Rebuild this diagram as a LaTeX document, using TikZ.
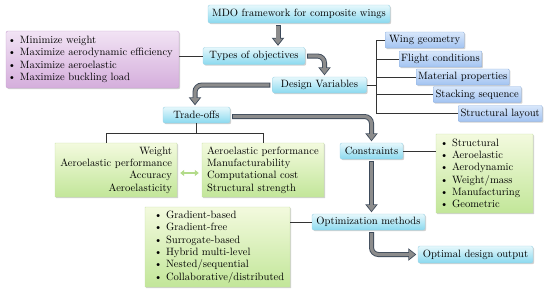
\documentclass[tikz,border=0pt]{standalone}
\usetikzlibrary{arrows.meta,shadows,positioning}

\definecolor{cyantop}{HTML}{E6F8FC}
\definecolor{cyanbot}{HTML}{8AD9EF}
\definecolor{cyanline}{HTML}{9CD3E4}
\definecolor{bluetop}{HTML}{D8E7FB}
\definecolor{bluebot}{HTML}{A2C3F1}
\definecolor{blueline}{HTML}{8FB1E0}
\definecolor{greentop}{HTML}{F3FADE}
\definecolor{greenbot}{HTML}{C2E699}
\definecolor{greenline}{HTML}{C4E1A4}
\definecolor{purpletop}{HTML}{F1E3F4}
\definecolor{purplebot}{HTML}{D5AEDC}
\definecolor{purpleline}{HTML}{C7A2D0}
\definecolor{arrowfill}{HTML}{8C8C8C}
\definecolor{arrowline}{HTML}{3D4A5A}
\definecolor{pairgreen}{HTML}{B3DB8A}

\newcommand{\bitem}[1]{\makebox[12pt][l]{\textbullet}\mbox{#1}}
\newcommand{\fatarrow}[1]{\draw[fatouter] #1; \draw[fatinner] #1;}

\tikzset{
    box/.style={draw, rounded corners=2pt, inner sep=2pt,
        font=\fontsize{10.6}{12.3}\selectfont,
        drop shadow={shadow xshift=1.2pt, shadow yshift=-1.2pt, opacity=.3, fill=black!60}},
    cyanbox/.style={box, draw=cyanline, top color=cyantop, bottom color=cyanbot},
    bluebox/.style={box, rounded corners=1pt, anchor=west, minimum height=16pt,
        draw=blueline, top color=bluetop, bottom color=bluebot},
    greenbox/.style={box, rounded corners=0.5pt, draw=greenline, top color=greentop, bottom color=greenbot},
    purplebox/.style={box, draw=purpleline, top color=purpletop, bottom color=purplebot},
    link/.style={draw=black!80, line width=0.6pt},
    fatouter/.style={draw=arrowline, line width=5pt, rounded corners=7pt,
        shorten <=2pt, shorten >=1.5pt, -{Triangle[length=8pt,width=12pt]}},
    fatinner/.style={draw=arrowfill, line width=3.2pt, rounded corners=7pt,
        shorten <=2.9pt, shorten >=2.9pt, -{Triangle[length=5.8pt,width=8.7pt]}},
    pairarrow/.style={draw=pairgreen, line width=1.8pt, shorten <=3pt, shorten >=3pt,
        {Triangle[length=4pt,width=6pt]}-{Triangle[length=4pt,width=6pt]}}
}

\begin{document}
\begin{tikzpicture}[x=1pt, y=-1pt]
    \useasboundingbox (0,0) rectangle (550,293);

    % main chain
    \node[cyanbox, minimum width=182pt, minimum height=18pt] (mdo) at (299,14) {MDO framework for composite wings};
    \node[cyanbox, minimum width=102pt, minimum height=17pt] (types) at (254,56) {Types of objectives};
    \node[cyanbox, minimum width=94pt, minimum height=16pt] (design) at (319.5,85) {Design Variables};
    \node[cyanbox, minimum width=67pt, minimum height=16pt] (trade) at (196.5,115) {Trade-offs};
    \node[cyanbox, minimum width=63pt, minimum height=16pt] (constr) at (371.5,151) {Constraints};
    \node[cyanbox, minimum width=113pt, minimum height=16pt] (opt) at (368.5,222) {Optimization methods};
    \node[cyanbox, minimum width=115pt, minimum height=17pt] (output) at (475.5,254.5) {Optimal design output};

    % objectives
    \node[purplebox, text width=169pt, minimum height=57pt, align=left] (obj) at (92.5,59.5)
        {\bitem{Minimize weight}\\ \bitem{Maximize aerodynamic efficiency}\\
         \bitem{Maximize aeroelastic}\\ \bitem{Maximize buckling load}};

    % design variables
    \node[bluebox, minimum width=79pt] (wing) at (385,40) {Wing geometry};
    \node[bluebox, minimum width=79pt] (flight) at (399,59) {Flight conditions};
    \node[bluebox, minimum width=91pt] (material) at (416,77) {Material properties};
    \node[bluebox, minimum width=88pt] (stacking) at (433,94.5) {Stacking sequence};
    \node[bluebox, minimum width=84pt] (layout) at (458,113.5) {Structural layout};

    % trade-offs
    \node[greenbox, text width=112pt, inner xsep=5pt, minimum height=54pt, align=right] (tradeL) at (116,170)
        {Weight\\ Aeroelastic performance\\ Accuracy\\ Aeroelasticity};
    \node[greenbox, text width=112pt, inner xsep=5pt, minimum height=54pt, align=left] (tradeR) at (263,170)
        {Aeroelastic performance\\ Manufacturability\\ Computational cost\\ Structural strength};

    % constraints and methods
    \node[greenbox, text width=89pt, inner xsep=4pt, minimum height=79pt, align=left] (conlist) at (484.5,173.5)
        {\bitem{Structural}\\ \bitem{Aeroelastic}\\ \bitem{Aerodynamic}\\
         \bitem{Weight/mass}\\ \bitem{Manufacturing}\\ \bitem{Geometric}};
    \node[greenbox, text width=127pt, inner xsep=9pt, minimum height=80pt, align=left] (methods) at (217.5,247)
        {\bitem{Gradient-based}\\ \bitem{Gradient-free}\\ \bitem{Surrogate-based}\\
         \bitem{Hybrid multi-level}\\ \bitem{Nested/sequential}\\ \bitem{Collaborative/distributed}};

    % thin connectors
    \draw[link] (types.west) -- (types.west -| obj.east);
    \coordinate (dvbus) at (376,0);
    \draw[link] (design.east) -- (design.east -| dvbus);
    \draw[link] (wing.west -| dvbus) -- (layout.west -| dvbus);
    \foreach \n in {wing,flight,material,stacking,layout}
        \draw[link] (\n.west -| dvbus) -- (\n.west);
    \coordinate (tbus) at (0,133);
    \draw[link] (trade.south) -- (trade.south |- tbus);
    \draw[link] ([xshift=-10pt]tradeL.north) |- (tradeR.north |- tbus) -- (tradeR.north);
    \draw[pairarrow] ([yshift=-3pt]tradeL.east) -- ([yshift=-3pt]tradeR.west);
    \draw[link] (constr.east) -- (constr.east -| conlist.west);
    \draw[link] (opt.west) -- (opt.west -| methods.east);

    % flow arrows
    \fatarrow{([xshift=-21pt]mdo.south) -- ([xshift=24pt]types.north)}
    \fatarrow{(types.east) -| ([xshift=5pt]design.north)}
    \fatarrow{(design.west) -| ([xshift=-1.5pt]trade.north)}
    \fatarrow{([yshift=-1.5pt]trade.east) -| (constr.north)}
    \fatarrow{(constr.south) -- (constr.south |- opt.north)}
    \fatarrow{(constr.south |- opt.south) |- (output.west)}
\end{tikzpicture}
\end{document}
